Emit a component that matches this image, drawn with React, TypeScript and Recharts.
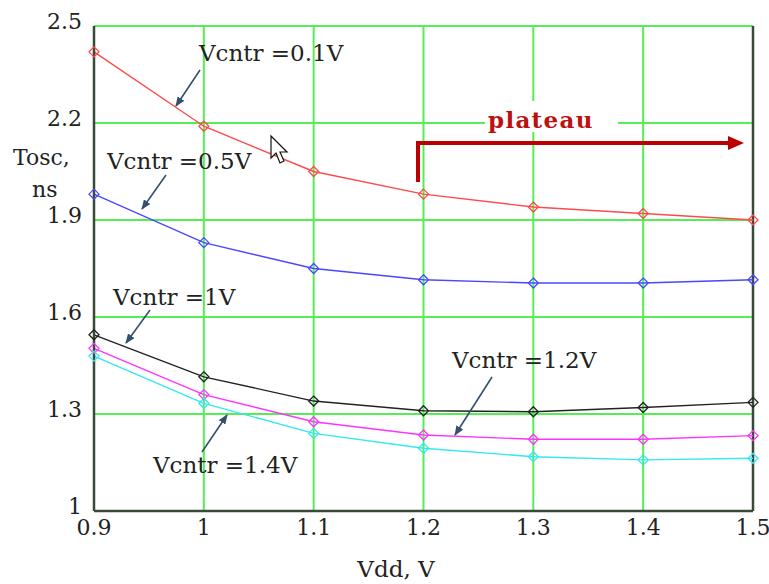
import React from "react";
import { LineChart, Line, XAxis, YAxis, CartesianGrid, ReferenceLine } from "recharts";

// Vdd, V
const vdd = [0.9, 1.0, 1.1, 1.2, 1.3, 1.4, 1.5];
// Tosc, ns for each Vcntr
const vc01 = [2.42, 2.19, 2.05, 1.98, 1.94, 1.92, 1.9];
const vc05 = [1.98, 1.83, 1.75, 1.715, 1.705, 1.705, 1.715];
const vc10 = [1.545, 1.415, 1.34, 1.31, 1.307, 1.32, 1.336];
const vc12 = [1.503, 1.36, 1.276, 1.235, 1.222, 1.222, 1.233];
const vc14 = [1.479, 1.333, 1.24, 1.194, 1.168, 1.158, 1.163];

const xTicks = [0.9, 1.0, 1.1, 1.2, 1.3, 1.4, 1.5];
const yTicks = [1, 1.3, 1.6, 1.9, 2.2, 2.5];

const data = vdd.map((x, i) => ({ x, a: vc01[i], b: vc05[i], c: vc10[i], d: vc12[i], e: vc14[i] }));

const FONT = "DejaVu Serif";
const INK = "#222";
const GRID = "#55ee55";
const FRAME = "#3a4a3a";
const ARROW = "#34506e";

const diamond = (color: string) => (p: any) => {
  const { cx, cy, index } = p;
  if (cx == null || cy == null) return <g key={index} />;
  const r = 5;
  return (
    <path key={index} d={`M${cx},${cy - r}L${cx + r},${cy}L${cx},${cy + r}L${cx - r},${cy}Z`}
      fill="none" stroke={color} strokeWidth={1.3} />
  );
};

const series = [
  { key: "a", color: "#ff4a4a" },
  { key: "b", color: "#4848ff" },
  { key: "c", color: "#222222" },
  { key: "d", color: "#ff33ff" },
  { key: "e", color: "#33e8f0" },
];

function Note({ x, y, text }: { x: number; y: number; text: string }) {
  return (
    <text x={x} y={y} fontFamily={FONT} fontSize={23} fill={INK} dominantBaseline="central">{text}</text>
  );
}

function Arrow({ x1, y1, x2, y2 }: { x1: number; y1: number; x2: number; y2: number }) {
  return <line x1={x1} y1={y1} x2={x2} y2={y2} stroke={ARROW} strokeWidth={1.6} markerEnd="url(#ah)" />;
}

export default function App() {
  return (
    <div style={{ position: "absolute", left: 0, top: 0, width: 769, height: 584, background: "#fff" }}>
      <LineChart width={769} height={584} data={data} margin={{ top: 26, right: 16, left: 0, bottom: 0 }}>
        <CartesianGrid stroke={GRID} strokeWidth={2} horizontalValues={yTicks} verticalValues={xTicks} />
        <XAxis dataKey="x" type="number" domain={[0.9, 1.5]} ticks={xTicks} interval={0} height={73}
          tickFormatter={(v) => String(v)} tickLine={false} axisLine={{ stroke: FRAME, strokeWidth: 2.5 }}
          tick={{ fontFamily: FONT, fontSize: 22, fill: INK }} />
        <YAxis type="number" domain={[1, 2.5]} ticks={yTicks} width={94} tickLine={false} tickMargin={6}
          tickFormatter={(v) => String(v)} axisLine={{ stroke: FRAME, strokeWidth: 2.5 }}
          tick={{ fontFamily: FONT, fontSize: 22, fill: INK, dy: -5 }} />
        <ReferenceLine x={1.5} stroke={FRAME} strokeWidth={2.5} />
        {series.map((s) => (
          <Line key={s.key} dataKey={s.key} type="linear" stroke={s.color} strokeWidth={1.4}
            dot={diamond(s.color)} activeDot={false} isAnimationActive={false} />
        ))}
      </LineChart>
      <svg width={769} height={584} style={{ position: "absolute", left: 0, top: 0, pointerEvents: "none" }}>
        <defs>
          <marker id="ah" markerWidth={10} markerHeight={8} refX={9} refY={4} orient="auto" markerUnits="userSpaceOnUse">
            <path d="M0,0L10,4L0,8Z" fill={ARROW} />
          </marker>
          <marker id="ahr" markerWidth={16} markerHeight={14} refX={4} refY={7} orient="auto" markerUnits="userSpaceOnUse">
            <path d="M0,0L16,7L0,14Z" fill="#bb0000" />
          </marker>
        </defs>
        <text x={13} y={157} fontFamily={FONT} fontSize={22} fill={INK} dominantBaseline="central">Tosc,</text>
        <text x={32} y={189} fontFamily={FONT} fontSize={22} fill={INK} dominantBaseline="central">ns</text>
        <text x={396} y={569} fontFamily={FONT} fontSize={23} fill={INK} textAnchor="middle" dominantBaseline="central">Vdd, V</text>

        <Note x={199} y={53} text="Vcntr =0.1V" />
        <Arrow x1={200} y1={70} x2={176} y2={106} />
        <Note x={107} y={161} text="Vcntr =0.5V" />
        <Arrow x1={166} y1={175} x2={142} y2={209} />
        <Note x={113} y={297} text="Vcntr =1V" />
        <Arrow x1={150} y1={310} x2={126} y2={343} />
        <Note x={452} y={360} text="Vcntr =1.2V" />
        <Arrow x1={492} y1={377} x2={455} y2={435} />
        <Note x={153} y={465} text="Vcntr =1.4V" />
        <Arrow x1={202} y1={452} x2={227} y2={415} />

        <rect x={485} y={101} width={133} height={31} fill="#fff" />
        <text x={488} y={119} fontFamily={FONT} fontSize={23} fontWeight="bold" letterSpacing={1.3} fill="#bb1111" dominantBaseline="central">plateau</text>
        <path d="M418,182L418,143L732,143" fill="none" stroke="#bb0000" strokeWidth={4} markerEnd="url(#ahr)" />

        <path d="M271,136L271,158L276,153L280,163L284,161L280,152L287,152Z" fill="#fff" stroke="#111" strokeWidth={1.2} />
      </svg>
    </div>
  );
}
